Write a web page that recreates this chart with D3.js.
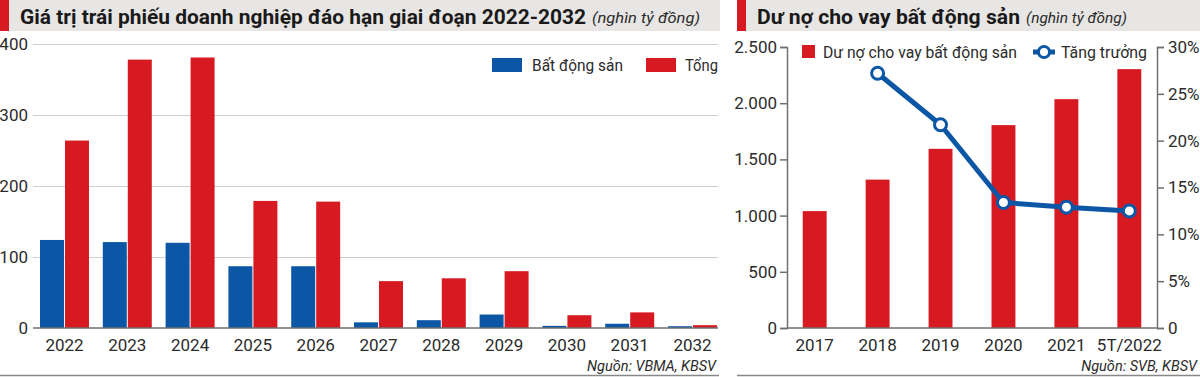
<!DOCTYPE html>
<html lang="vi">
<head>
  <meta charset="UTF-8">
  <title>Trái phiếu & dư nợ bất động sản</title>
  <style>
    body { margin: 0; background: #fff; font-family: Roboto, "Noto Sans", sans-serif; }
    svg text { fill: #2b2b2b; }
  </style>
</head>
<body>
<svg width="1200" height="377"></svg>
<script src="https://d3js.org/d3.v7.min.js"></script>
<script>

// ---- data: left chart (nghìn tỷ đồng)
let years = ["2022","2023","2024","2025","2026","2027","2028","2029","2030","2031","2032"];
let bdsValues  = [124, 121, 120, 87, 87, 8, 11, 19, 3, 6, 2.5];
let tongValues = [264, 378, 381, 179, 178, 66, 70, 80, 18, 22, 4];
let leftTicks = [0, 100, 200, 300, 400];

// ---- data: right chart
let loanYears = ["2017","2018","2019","2020","2021","5T/2022"];
let loanValues = [1040, 1320, 1594, 1805, 2036, 2303];
let growthValues = [null, 27.2, 21.7, 13.4, 12.9, 12.5]; // %
let loanTicks = [0, 500, 1000, 1500, 2000, 2500];
let growthTicks = [0, 5, 10, 15, 20, 25, 30];

let blue = "#0b57a6", red = "#d71a21", grey = "#e8e6e4";

let svg = d3.select("svg");

// squeezed text helper (the original uses a condensed face)
function label(g, x, y, txt, len, size, opts) {
  let t = g.append("text").attr("x", x).attr("y", y).attr("font-size", size).text(txt);
  if (len) t.attr("textLength", len).attr("lengthAdjust", "spacingAndGlyphs");
  if (opts && opts.anchor) t.attr("text-anchor", opts.anchor);
  if (opts && opts.italic) t.attr("font-style", "italic");
  return t;
}

// title bars
function titleBar(x0, x1, title, titleLen, sub, subLen) {
  svg.append("rect").attr("x", x0).attr("y", 0).attr("width", x1 - x0).attr("height", 31).attr("fill", grey);
  svg.append("rect").attr("x", x0).attr("y", 0).attr("width", 9).attr("height", 31).attr("fill", red);
  label(svg, x0 + 20, 24, title, titleLen, 21).attr("font-weight", 700).style("fill", "#1a1a1a");
  label(svg, x0 + 20 + titleLen + 6, 23, sub, subLen, 15, { italic: true });
}
titleBar(0, 720, "Giá trị trái phiếu doanh nghiệp đáo hạn giai đoạn 2022-2032", 566, "(nghìn tỷ đồng)", 108);
titleBar(737, 1200, "Dư nợ cho vay bất động sản", 263, "(nghìn tỷ đồng)", 101);

// bottom separators
svg.append("line").attr("x1", 0).attr("x2", 719).attr("y1", 375.5).attr("y2", 375.5).attr("stroke", "#888").attr("stroke-width", 1.5);
svg.append("line").attr("x1", 737).attr("x2", 1200).attr("y1", 375.5).attr("y2", 375.5).attr("stroke", "#888").attr("stroke-width", 1.5);

// ================= left chart =================
let x = d3.scaleBand().domain(years).range([40, 717]).paddingInner(0.22).paddingOuter(0);
let y = d3.scaleLinear().domain([0, 400]).range([328, 44]);
let sub = d3.scaleBand().domain(["bds", "tong"]).range([0, x.bandwidth()]).paddingInner(0.04);

let gl = svg.append("g");
gl.selectAll(".grid").data(leftTicks.slice(1)).enter().append("line")
    .attr("x1", 33).attr("x2", 718)
    .attr("y1", d => y(d) + 0.5).attr("y2", d => y(d) + 0.5)
    .attr("stroke", "#cfcfcf").attr("stroke-width", 1.2);

gl.selectAll(".ylab").data(leftTicks).enter().append("text")
    .attr("x", 28).attr("y", d => y(d) + 6)
    .attr("text-anchor", "end").attr("font-size", 17)
    .text(d => d);

gl.selectAll(".bds").data(years).enter().append("rect")
    .attr("x", (d, i) => x(d) + sub("bds"))
    .attr("y", (d, i) => y(bdsValues[i]))
    .attr("width", sub.bandwidth())
    .attr("height", (d, i) => y(0) - y(bdsValues[i]))
    .attr("fill", blue);

gl.selectAll(".tong").data(years).enter().append("rect")
    .attr("x", (d, i) => x(d) + sub("tong"))
    .attr("y", (d, i) => y(tongValues[i]))
    .attr("width", sub.bandwidth())
    .attr("height", (d, i) => y(0) - y(tongValues[i]))
    .attr("fill", red);

gl.append("line").attr("x1", 33).attr("x2", 718).attr("y1", y(0)).attr("y2", y(0))
    .attr("stroke", "#6f6f6f").attr("stroke-width", 1.5);

gl.selectAll(".xlab").data(years).enter().append("text")
    .attr("x", d => x(d) + x.bandwidth() / 2).attr("y", 351)
    .attr("text-anchor", "middle").attr("font-size", 17)
    .text(d => d);

label(gl, 716, 371, "Nguồn: VBMA, KBSV", null, 14.5, { anchor: "end", italic: true });

// legend
gl.append("rect").attr("x", 492).attr("y", 58).attr("width", 30).attr("height", 14).attr("fill", blue);
label(gl, 532, 71, "Bất động sản", 91, 17);
gl.append("rect").attr("x", 646).attr("y", 58).attr("width", 30).attr("height", 14).attr("fill", red);
label(gl, 685, 71, "Tổng", 33, 17);

// ================= right chart =================
let x2 = d3.scaleBand().domain(loanYears).range([787, 1157]).paddingInner(0.62).paddingOuter(0.25);
let yL = d3.scaleLinear().domain([0, 2500]).range([328, 47]);
let yR = d3.scaleLinear().domain([0, 30]).range([328, 47]);
let fmtVN = d => d3.format(",")(d).replace(/,/g, ".");

let gr = svg.append("g");

gr.selectAll(".loan").data(loanYears).enter().append("rect")
    .attr("x", d => x2(d))
    .attr("y", (d, i) => yL(loanValues[i]))
    .attr("width", x2.bandwidth())
    .attr("height", (d, i) => yL(0) - yL(loanValues[i]))
    .attr("fill", red);

let axL = gr.append("g").attr("transform", "translate(787,0)")
    .call(d3.axisLeft(yL).tickValues(loanTicks).tickSize(7).tickPadding(3).tickFormat(fmtVN));
let axR = gr.append("g").attr("transform", "translate(1157,0)")
    .call(d3.axisRight(yR).tickValues(growthTicks).tickSize(7).tickPadding(4).tickFormat(d => d === 0 ? "0" : d + "%"));
[axL, axR].forEach(a => {
  a.select(".domain").attr("stroke", "#6f6f6f").attr("stroke-width", 1.5);
  a.selectAll(".tick line").attr("stroke", "#6f6f6f").attr("stroke-width", 1.5);
  a.selectAll(".tick text").attr("font-size", 17).attr("font-family", "Roboto").style("fill", "#2b2b2b");
});

gr.append("line").attr("x1", 787).attr("x2", 1157).attr("y1", 328).attr("y2", 328)
    .attr("stroke", "#6f6f6f").attr("stroke-width", 1.5);

let pts = loanYears.map((d, i) => ({ k: d, v: growthValues[i] })).filter(p => p.v !== null);
let line = d3.line().x(p => x2(p.k) + x2.bandwidth() / 2).y(p => yR(p.v));
gr.append("path").datum(pts).attr("d", line)
    .attr("fill", "none").attr("stroke", blue).attr("stroke-width", 5).attr("stroke-linejoin", "round");
gr.selectAll(".pt").data(pts).enter().append("circle")
    .attr("cx", p => x2(p.k) + x2.bandwidth() / 2).attr("cy", p => yR(p.v))
    .attr("r", 6).attr("fill", "#fff").attr("stroke", blue).attr("stroke-width", 3);

gr.selectAll(".xlab2").data(loanYears).enter().append("text")
    .attr("x", d => x2(d) + x2.bandwidth() / 2).attr("y", 351)
    .attr("text-anchor", "middle").attr("font-size", 17)
    .text(d => d);

label(gr, 1197, 371, "Nguồn: SVB, KBSV", null, 14.5, { anchor: "end", italic: true });

// legend
gr.append("rect").attr("x", 802).attr("y", 45).attr("width", 13).attr("height", 13).attr("fill", red);
label(gr, 823, 58, "Dư nợ cho vay bất động sản", 194, 17);
gr.append("line").attr("x1", 1033).attr("x2", 1055).attr("y1", 52).attr("y2", 52)
    .attr("stroke", blue).attr("stroke-width", 5);
gr.append("circle").attr("cx", 1044).attr("cy", 52).attr("r", 5.5)
    .attr("fill", "#fff").attr("stroke", blue).attr("stroke-width", 3);
label(gr, 1061, 58, "Tăng trưởng", 86, 17);

</script>
</body>
</html>
